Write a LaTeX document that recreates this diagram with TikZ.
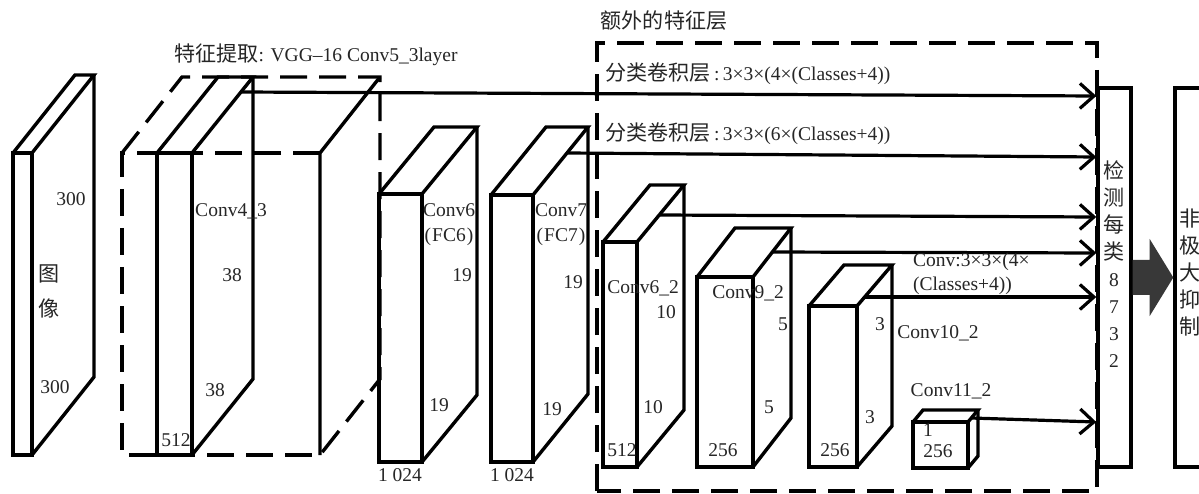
\documentclass[tikz,border=0pt]{standalone}
\usepackage{fontspec}
\setmainfont{Liberation Serif}
\newfontfamily\cjk[Scale=1.08]{Noto Sans CJK SC}
\usetikzlibrary{arrows.meta,calc}
\newcommand\drawblock[6]{%
  \draw[blk] (#1,#3) rectangle (#2,#4);
  \draw[blk] (#1,#3) -- ++(#5,-#6) -- ($(#2,#3)+(#5,-#6)$) -- (#2,#3);
  \draw[blk] ($(#2,#3)+(#5,-#6)$) -- ($(#2,#4)+(#5,-#6)$) -- (#2,#4);
}
\tikzset{
  blk/.style={line width=3.4pt},
  dsh/.style={line width=3.4pt, dash pattern=on 27pt off 12pt},
  conn/.style={line width=3.2pt, -{Straight Barb[length=14pt,width=25pt]}},
  lbl/.style={inner sep=0pt, text height=0.68em, text depth=0pt, text=black!85,
    font=\fontsize{19.5}{23}\selectfont},
  bigarrow/.style={fill=black!78},
}
\begin{document}
\begin{tikzpicture}[x=1pt,y=-1pt]
\useasboundingbox (0,0) rectangle (1199,494);
\clip (0,0) rectangle (1199,494);
\fill[white] (0,0) rectangle (1199,494);

% ---------- image block
\drawblock{13}{32}{153}{455}{62}{78}
% ---------- Conv5_3 dashed block
\draw[dsh] (320,153) -- (122,153) -- (122,455) -- (320,455);
\draw[dsh] (122,153) -- (182,77) -- (380,77) -- (380,379) -- (320,455);
\draw[blk] (320,455) -- (320,153) -- (380,77);
% ---------- Conv4_3
\drawblock{157}{192}{153}{455}{61}{76}
% ---------- Conv6, Conv7
\drawblock{379}{422}{194}{462}{55}{67}
\drawblock{491}{533}{195}{462}{55}{68}
% ---------- extra layers
\drawblock{603}{637}{242}{467}{47}{57}
\drawblock{697}{753}{277}{467}{38}{49}
\drawblock{809}{857}{306}{467}{35}{41}
\drawblock{913}{968}{422}{468}{10}{12}

% ---------- extra feature dashed frame
\draw[dsh] (597,491) -- (597,43) -- (1097,43) -- (1097,491) -- cycle;

% ---------- detection and NMS boxes
\node[draw, line width=3.4pt, minimum width=33pt, minimum height=379pt, inner sep=0pt] (det) at (1114.5,277.5) {};
\node[draw, line width=3.4pt, minimum width=60pt, minimum height=379pt, inner sep=0pt] (nms) at (1205,277.5) {};
\fill[bigarrow] ($(det.east)+(0,-17.5)$) -- ++(17,0) -- ++(0,-21) -- (nms.west)
  -- ($(det.east)+(17,38.5)$) -- ++(0,-21) -- ($(det.east)+(0,17.5)$) -- cycle;

% ---------- connectors
\coordinate (s1) at (241,92);  \coordinate (e1) at (0,96);
\coordinate (s2) at (567,153); \coordinate (e2) at (0,157);
\coordinate (s3) at (659,215); \coordinate (e3) at (0,217);
\coordinate (s4) at (772,252); \coordinate (e4) at (0,253);
\coordinate (s5) at (865,297); \coordinate (e5) at (0,297);
\coordinate (s6) at (971,418); \coordinate (e6) at (0,422);
\draw[conn] (s1) -- (det.west |- e1);
\draw[conn] (s2) -- (det.west |- e2);
\draw[conn] (s3) -- (det.west |- e3);
\draw[conn] (s4) -- (det.west |- e4);
\draw[conn] (s5) -- (det.west |- e5);
\draw[conn] (s6) -- (det.west |- e6);

% ---------- labels
\node[lbl] (ta) at (71,202) {300};
\node[lbl] (tb) at (55,390) {300};
\node[lbl] (tc) at (49,278) {\cjk 图};
\node[lbl] (td) at (49,313) {\cjk 像};
\node[lbl] (te) at (231,213) {Conv4\_3};
\node[lbl] (tf) at (232,278) {38};
\node[lbl] (tg) at (215,393) {38};
\node[lbl] (th) at (176,443) {512};
\node[lbl] (title) at (316,58) {{\cjk 特征提取}: VGG–16 Conv5\_3layer};
\node[lbl] (c6) at (449,213) {Conv6};
\node[lbl] (c6b) at (449,238) {(\kern1pt FC6\kern1pt)};
\node[lbl] (c6c) at (462,278) {19};
\node[lbl] (c6d) at (439,408) {19};
\node[lbl] (c6e) at (400,478) {1 024};
\node[lbl] (c7) at (561,213) {Conv7};
\node[lbl] (c7b) at (561,238) {(\kern1pt FC7\kern1pt)};
\node[lbl] (c7c) at (573,285) {19};
\node[lbl] (c7d) at (552,412) {19};
\node[lbl] (c7e) at (512,478) {1 024};
\node[lbl] (extra) at (664,25) {\cjk 额外的特征层};
\node[lbl] (cls1) at (748,77) {{\cjk 分类卷积层}\,:\,3×3×(4×(Classes+4))};
\node[lbl] (cls2) at (748,137) {{\cjk 分类卷积层}\,:\,3×3×(6×(Classes+4))};
\node[lbl] (c62) at (643,290) {Conv6\_2};
\node[lbl] (c62b) at (666,315) {10};
\node[lbl] (c62c) at (653,410) {10};
\node[lbl] (c62d) at (622,453) {512};
\node[lbl] (c92) at (748,295) {Conv9\_2};
\node[lbl] (c92b) at (783,327) {5};
\node[lbl] (c92c) at (769,410) {5};
\node[lbl] (c92d) at (723,453) {256};
\node[lbl] (c102b) at (880,327) {3};
\node[lbl] (c102c) at (870,420) {3};
\node[lbl] (c102d) at (835,453) {256};
\node[lbl] (c102) at (938,335) {Conv10\_2};
\node[lbl, anchor=west] (cv1) at (913,263) {Conv:3×3×(4×};
\node[lbl, anchor=west] (cv2) at (913,287) {(Classes+4))};
\node[lbl] (c112) at (951,393) {Conv11\_2};
\node[lbl] (c112b) at (928,433) {1};
\node[lbl] (c112c) at (938,454) {256};
\foreach \c [count=\i] in {检,测,每,类}
  \node[lbl] (dc\i) at (1114,148+27*\i) {\cjk \c};
\foreach \c [count=\i] in {8,7,3,2}
  \node[lbl] (dn\i) at (1114,256+27*\i) {\c};
\foreach \c [count=\i] in {非,极,大,抑,制}
  \node[lbl] (nc\i) at (1190,196+27*\i) {\cjk \c};
\end{tikzpicture}
\end{document}
